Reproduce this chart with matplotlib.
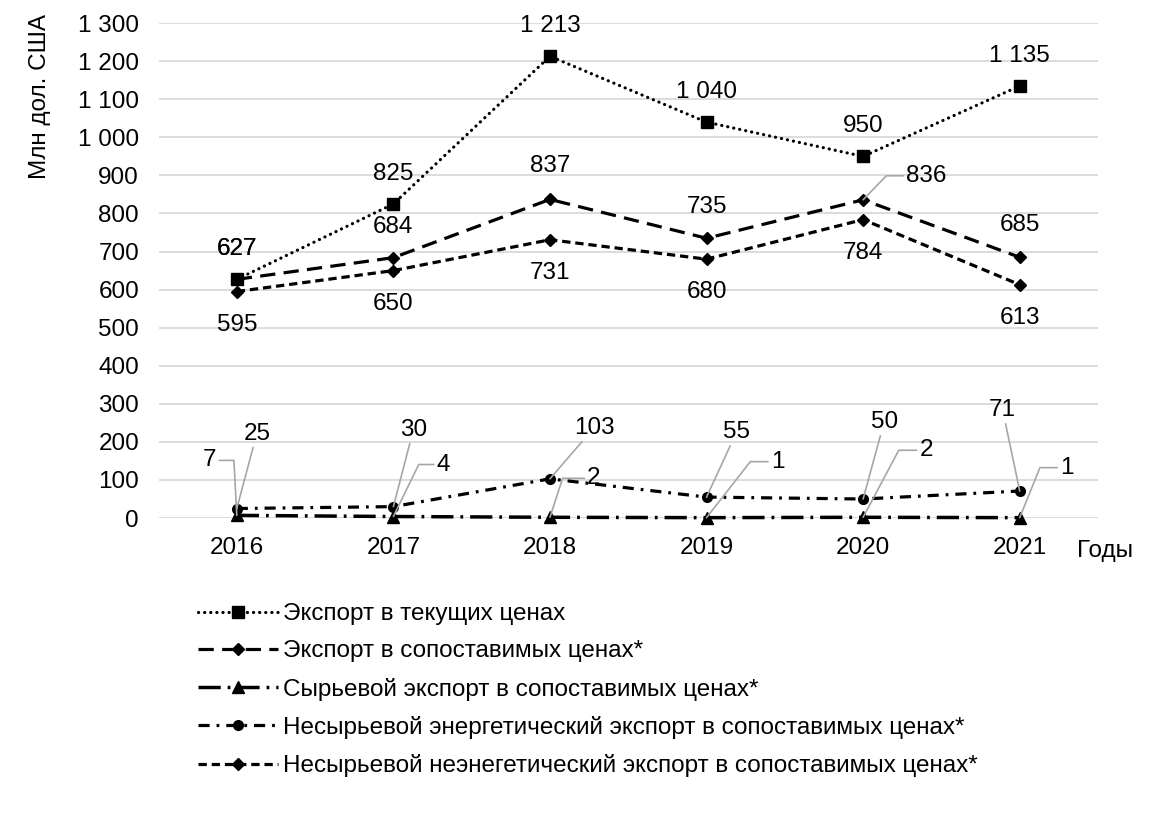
import matplotlib.pyplot as plt
from matplotlib.ticker import FuncFormatter

plt.rcParams['font.family'] = ['Liberation Sans', 'DejaVu Sans']
plt.rcParams['lines.scale_dashes'] = False

# Data (млн долл. США)
years = ['2016', '2017', '2018', '2019', '2020', '2021']
export_current = [627, 825, 1213, 1040, 950, 1135]
export_comparable = [627, 684, 837, 735, 836, 685]
raw_export = [7, 4, 2, 1, 2, 1]
energy_export = [25, 30, 103, 55, 50, 71]
nonenergy_export = [595, 650, 731, 680, 784, 613]

names = ['Экспорт в текущих ценах',
         'Экспорт в сопоставимых ценах*',
         'Сырьевой экспорт в сопоставимых ценах*',
         'Несырьевой энергетический экспорт в сопоставимых ценах*',
         'Несырьевой неэнегетический экспорт в сопоставимых ценах*']

# label offsets in pixels (dx, dy) and leader angle (None = no leader, 'line' = straight)
off_current = [(0, 30)] * 6
off_comparable = [(0, 30), (0, 31), (0, 33), (0, 31), (63, 24), (0, 32)]
lead_comparable = [None, None, None, None, 46, None]
off_raw = [(-27, 55), (50, 52), (44, 39), (71, 56), (63, 67), (47, 50)]
lead_raw = [93, 64, 72, 52, 62, 68]
off_energy = [(20, 75), (20, 77), (44, 51), (30, 65), (21, 77), (-17, 81)]
off_nonenergy = [(0, -33)] * 6

FS = 17.5
GRAY = '#a6a6a6'


def fmt(v, pos=None):
    return f'{v:,.0f}'.replace(',', ' ')


fig = plt.figure(figsize=(11.57, 8.18), dpi=100)
ax = fig.add_axes([0.137, 0.3667, 0.812, 0.605])
x = list(range(len(years)))

ax.plot(x, export_current, color='black', lw=2.3, dashes=(0.1, 4.3), dash_capstyle='round',
        marker='s', ms=8, clip_on=False, label=names[0], zorder=3)
ax.plot(x, export_comparable, color='black', lw=2.3, dashes=(11, 6),
        marker='D', ms=6, clip_on=False, label=names[1], zorder=3)
ax.plot(x, raw_export, color='black', lw=2.5, dashes=(16, 5, 2, 5),
        marker='^', ms=8, clip_on=False, label=names[2], zorder=3)
ax.plot(x, energy_export, color='black', lw=2.3, dashes=(8, 5, 2, 5),
        marker='o', ms=7, clip_on=False, label=names[3], zorder=3)
ax.plot(x, nonenergy_export, color='black', lw=2.3, dashes=(6, 3.5),
        marker='D', ms=6, clip_on=False, label=names[4], zorder=3)


def add_label(xi, v, off, lead=None):
    kw = {}
    if lead == 'line':
        kw['arrowprops'] = dict(arrowstyle='-', color=GRAY, lw=1.2, shrinkA=0, shrinkB=0)
    elif lead is not None:
        kw['arrowprops'] = dict(arrowstyle='-', color=GRAY, lw=1.2, shrinkA=0, shrinkB=0,
                                connectionstyle=f'angle,angleA=0,angleB={lead},rad=0')
    ax.annotate(fmt(v), (xi, v), xytext=off, textcoords='offset pixels',
                ha='center', va='center', fontsize=FS, **kw)


for i in x:
    add_label(i, export_current[i], off_current[i])
    add_label(i, export_comparable[i], off_comparable[i], lead_comparable[i])
    add_label(i, raw_export[i], off_raw[i], lead_raw[i])
    add_label(i, energy_export[i], off_energy[i], 'line')
    add_label(i, nonenergy_export[i], off_nonenergy[i])

ax.set_xlim(-0.5, len(years) - 0.5)
ax.set_ylim(0, 1300)
ax.set_xticks(x)
ax.set_xticklabels(years)
ax.set_yticks(range(0, 1301, 100))
ax.yaxis.set_major_formatter(FuncFormatter(fmt))
ax.tick_params(length=0, labelsize=FS, pad=14)
ax.yaxis.grid(True, color='#d9d9d9', lw=1.3)
ax.set_axisbelow(True)
for s in ax.spines.values():
    s.set_visible(False)

fig.text(40 / 1157, 1 - 14 / 818, 'Млн дол. США', rotation=90, va='top', ha='center', fontsize=FS)
fig.text(1105 / 1157, 1 - 551 / 818, 'Годы', ha='center', va='center', fontsize=FS)

fig.legend(loc='upper left', bbox_to_anchor=(198 / 1157, 1 - 603 / 818), frameon=False,
           fontsize=FS, handlelength=3.3, handletextpad=0.2, labelspacing=0.63,
           borderpad=0, borderaxespad=0, numpoints=1)

fig.savefig('out.png', dpi=100)
